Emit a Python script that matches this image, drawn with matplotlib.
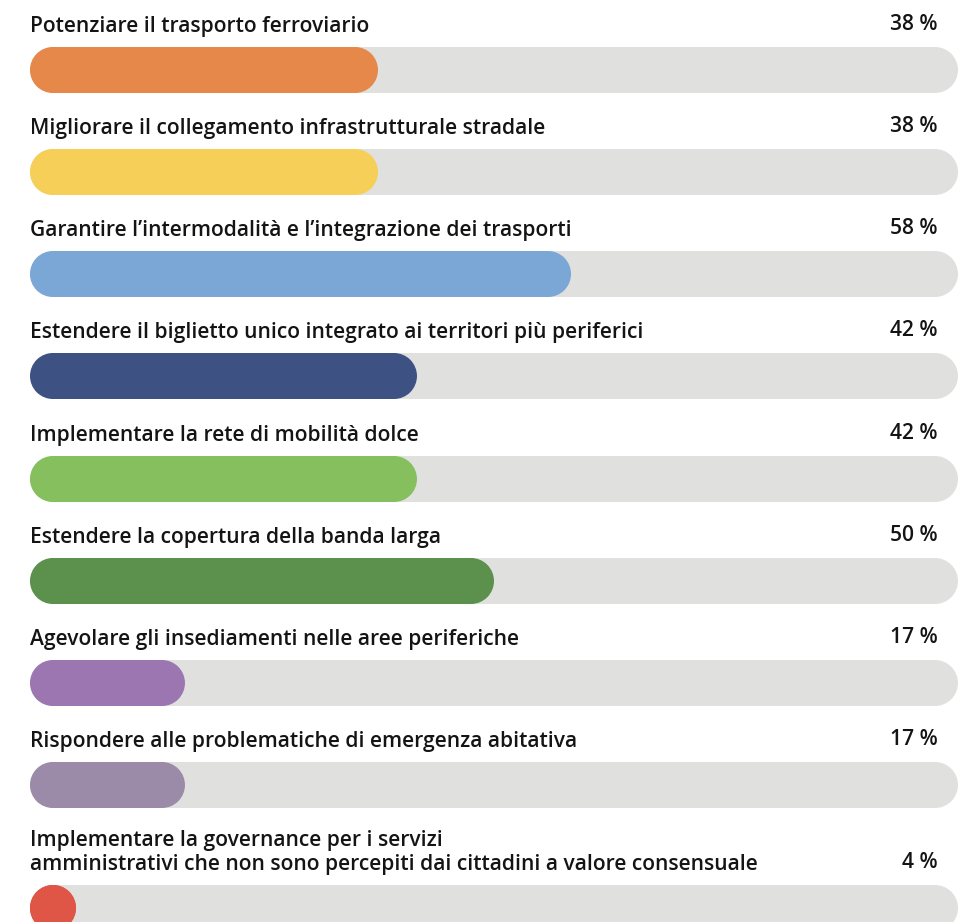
import matplotlib.pyplot as plt
from matplotlib.patches import Rectangle, Ellipse

labels = [
    "Potenziare il trasporto ferroviario",
    "Migliorare il collegamento infrastrutturale stradale",
    "Garantire l\u2019intermodalit\u00e0 e l\u2019integrazione dei trasporti",
    "Estendere il biglietto unico integrato ai territori pi\u00f9 periferici",
    "Implementare la rete di mobilit\u00e0 dolce",
    "Estendere la copertura della banda larga",
    "Agevolare gli insediamenti nelle aree periferiche",
    "Rispondere alle problematiche di emergenza abitativa",
    "Implementare la governance per i servizi\namministrativi che non sono percepiti dai cittadini a valore consensuale",
]
values = [37.5, 37.5, 58.3, 41.7, 41.7, 50.0, 16.7, 16.7, 4.2]
colors = ["#E5884A", "#F5CF57", "#7BA7D7", "#3D5183", "#85BF5E",
          "#5B914C", "#9B76B0", "#9C8BA8", "#DF5546"]

# layout (pixels)
W, H = 959, 922
x0, track_w = 30, 928
bar_h = 46
centers = [70, 172, 274, 376, 479, 581, 683, 785, 908]

fig = plt.figure(figsize=(W / 100, H / 100), dpi=100)
ax = fig.add_axes([0, 0, 1, 1])
unit = track_w / 100.0  # pixels per percent
ax.set_xlim(-x0 / unit, (W - x0) / unit)
ax.set_ylim(H, 0)
ax.axis("off")

r = bar_h / 2
rx = r / unit  # cap radius in percent units
font = dict(family=["Open Sans", "DejaVu Sans"], fontsize=15.1, weight="semibold", color="#141414")


def pill(x_end, yc, color):
    # rounded bar from 0 to x_end (at least a full circle)
    x_end = max(x_end, 2 * rx)
    ax.add_patch(Rectangle((rx, yc - r), x_end - 2 * rx, bar_h, fc=color, ec="none"))
    ax.add_patch(Ellipse((rx, yc), 2 * rx, bar_h, fc=color, ec="none"))
    ax.add_patch(Ellipse((x_end - rx, yc), 2 * rx, bar_h, fc=color, ec="none"))


for lab, v, c, yc in zip(labels, values, colors, centers):
    pill(100, yc, "#E0E1DF")
    pill(v, yc, c)
    ax.text(0.05, yc - 38, lab, ha="left", va="baseline", linespacing=1.2, **font)
    ax.text(97.8, yc - 40, f"{int(v + 0.5)} %", ha="right", va="baseline", **font)

fig.savefig("out.png", dpi=100)
